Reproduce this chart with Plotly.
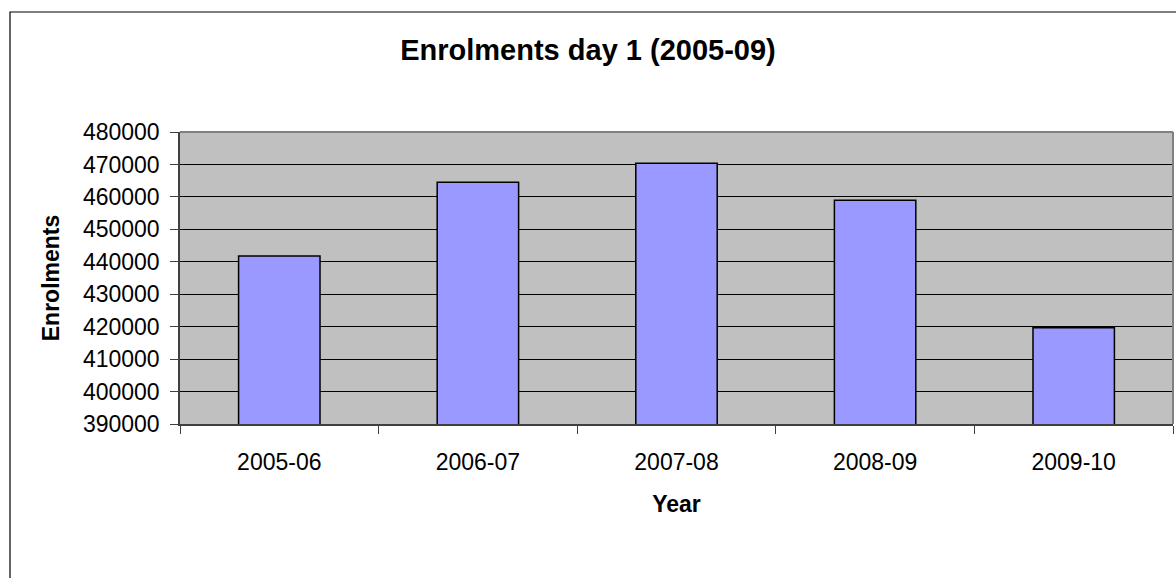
import plotly.graph_objects as go

years = ["2005-06", "2006-07", "2007-08", "2008-09", "2009-10"]
enrolments = [441800, 464500, 470400, 459000, 419700]
y_ticks = [390000, 400000, 410000, 420000, 430000, 440000, 450000, 460000, 470000, 480000]

FONT = "Liberation Sans, Arial, sans-serif"

fig = go.Figure(
    go.Bar(
        x=years,
        y=enrolments,
        width=0.41,
        marker=dict(color="#9999FF", line=dict(color="#000000", width=1.5)),
    )
)

fig.update_layout(
    width=1176,
    height=578,
    margin=dict(l=180, r=3, t=132, b=154),
    paper_bgcolor="#FFFFFF",
    plot_bgcolor="#C0C0C0",
    showlegend=False,
    font=dict(family=FONT, color="#000000", size=23),
    title=dict(
        text="<b>Enrolments day 1 (2005-09)</b>",
        font=dict(family=FONT, size=29, color="#000000"),
        x=0.5,
        xref="container",
        xanchor="center",
        y=1 - 50 / 578,
        yref="container",
        yanchor="middle",
    ),
    shapes=[
        # outer chart frame (extends past the right/bottom edges)
        dict(type="rect", xref="paper", yref="paper",
             x0=(10 - 180) / 993, x1=(1190 - 180) / 993,
             y0=(424 - 600) / 292, y1=(424 - 12) / 292,
             line=dict(color="#000000", width=1.2), fillcolor="rgba(0,0,0,0)", layer="above"),
        # plot-area border top and right (grey)
        dict(type="line", xref="paper", yref="paper", x0=0, x1=1, y0=1, y1=1,
             line=dict(color="#808080", width=2), layer="above"),
        dict(type="line", xref="paper", yref="paper", x0=1, x1=1, y0=0, y1=1,
             line=dict(color="#808080", width=2), layer="above"),
    ],
)

fig.update_xaxes(
    type="category",
    range=[-0.5, 4.5],
    tickson="boundaries",
    ticks="outside",
    ticklen=8,
    tickcolor="#404040",
    tickwidth=1,
    showline=True,
    linecolor="#404040",
    linewidth=1.5,
    showgrid=False,
    tickfont=dict(family=FONT, size=23),
    ticklabelstandoff=17,
    title=dict(text="<b>Year</b>", font=dict(family=FONT, size=23), standoff=22),
    automargin=False,
)

fig.update_yaxes(
    range=[390000, 480000],
    tickvals=y_ticks,
    tickformat="d",
    ticks="outside",
    ticklen=8,
    tickcolor="#404040",
    tickwidth=1,
    showline=True,
    linecolor="#404040",
    linewidth=1.5,
    showgrid=True,
    gridcolor="#000000",
    gridwidth=1,
    zeroline=False,
    tickfont=dict(family=FONT, size=23),
    ticklabelstandoff=6,
    title=dict(text="<b>Enrolments</b>", font=dict(family=FONT, size=23), standoff=17),
    automargin=False,
)

fig.write_html(
    "out.html",
    config={"displayModeBar": False},
    post_script="document.body.style.margin='0';document.body.style.overflow='hidden';",
)
